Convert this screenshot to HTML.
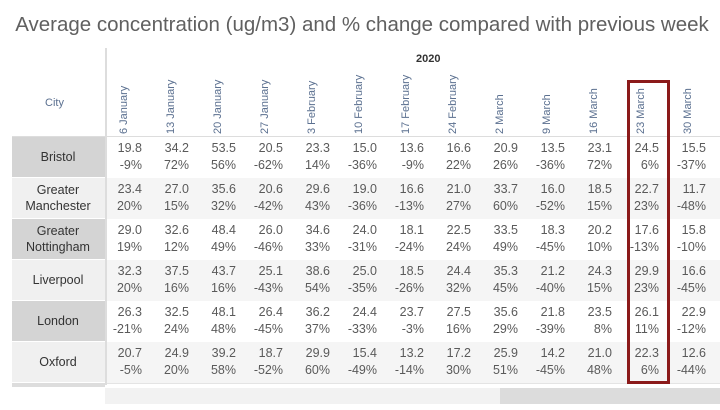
<!DOCTYPE html>
<html><head><meta charset="utf-8"><style>
body{margin:0;width:720px;height:410px;background:#fff;overflow:hidden;font-family:"Liberation Sans",sans-serif;position:relative}
.a{position:absolute}
#title{left:0;top:13px;width:724px;text-align:center;font-size:20.5px;color:#606060;white-space:nowrap}
.num{font-size:12.5px;color:#5a5a5a;text-align:right;width:40px;line-height:17px}
.city{font-size:12.5px;color:#333;text-align:center;width:92px;line-height:16px}
.dl{font-size:11px;color:#5b7090;white-space:nowrap;transform-origin:0 0;transform:rotate(-90deg)}
</style></head><body>
<div id="title" class="a">Average concentration (ug/m3) and % change compared with previous week</div>
<div class="a" style="left:416px;top:53px;font-size:11px;font-weight:bold;color:#333">2020</div>
<div class="a" style="left:45px;top:97px;font-size:11px;color:#5b7090">City</div>
<div class="a" style="left:105px;top:48px;width:2px;height:337px;background:#ddd"></div>
<div class="a" style="left:12px;top:136px;width:708px;height:1px;background:#ddd"></div>
<div id="tbl"></div>
<div class="a" style="left:12px;top:383px;width:93px;height:4px;background:#ddd"></div>
<div class="a" style="left:107px;top:383px;width:613px;height:1px;background:#e4e4e4"></div>
<div class="a" style="left:105px;top:388px;width:395px;height:16px;background:#f2f2f2"></div>
<div class="a" style="left:500px;top:388px;width:220px;height:16px;background:#dcdcdc"></div>
<div class="a" style="left:627px;top:80px;width:37px;height:298px;border:3px solid #8b1a1a"></div>
<script>
const weeks=["6 January","13 January","20 January","27 January","3 February","10 February","17 February","24 February","2 March","9 March","16 March","23 March","30 March"];
const cities=["Bristol","Greater Manchester","Greater Nottingham","Liverpool","London","Oxford"];
const conc=[
[19.8,34.2,53.5,20.5,23.3,15.0,13.6,16.6,20.9,13.5,23.1,24.5,15.5],
[23.4,27.0,35.6,20.6,29.6,19.0,16.6,21.0,33.7,16.0,18.5,22.7,11.7],
[29.0,32.6,48.4,26.0,34.6,24.0,18.1,22.5,33.5,18.3,20.2,17.6,15.8],
[32.3,37.5,43.7,25.1,38.6,25.0,18.5,24.4,35.3,21.2,24.3,29.9,16.6],
[26.3,32.5,48.1,26.4,36.2,24.4,23.7,27.5,35.6,21.8,23.5,26.1,22.9],
[20.7,24.9,39.2,18.7,29.9,15.4,13.2,17.2,25.9,14.2,21.0,22.3,12.6]];
const pct=[
[-9,72,56,-62,14,-36,-9,22,26,-36,72,6,-37],
[20,15,32,-42,43,-36,-13,27,60,-52,15,23,-48],
[19,12,49,-46,33,-31,-24,24,49,-45,10,-13,-10],
[20,16,16,-43,54,-35,-26,32,45,-40,15,23,-45],
[-21,24,48,-45,37,-33,-3,16,29,-39,8,11,-12],
[-5,20,58,-52,60,-49,-14,30,51,-45,48,6,-44]];
const T=document.getElementById('tbl');
const colX=i=>142+47*i, rowY=r=>137+41*r;
function mk(cls,css,txt){const d=document.createElement('div');d.className='a '+cls;d.style.cssText=css;if(txt!=null)d.textContent=txt;T.appendChild(d);return d;}
weeks.forEach((w,i)=>{
  const d=mk('dl','left:'+(colX(i)-24)+'px;top:134px;',w);
  
  
});
cities.forEach((c,r)=>{
  const y=rowY(r);
  const bg=mk('','left:12px;top:'+y+'px;width:93px;height:40px;background:'+(r%2?'#f0f0f0':'#d4d4d4'));
  
  
  const db=mk('','left:107px;top:'+y+'px;width:613px;height:41px;background:'+(r%2?'#f5f5f5':'#ffffff'));
  
  
  const two=c.indexOf(' ')>0;
  const ct=mk('city','left:12px;top:'+(y+(two?4:12))+'px;',null);
  ct.innerHTML=two?c.replace(' ','<br>'):c;
  
  
  weeks.forEach((w,i)=>{
    const n=mk('num','left:'+(colX(i)-40)+'px;top:'+(y+3)+'px;',conc[r][i].toFixed(1));
    
    
    const p=mk('num','left:'+(colX(i)-40)+'px;top:'+(y+20)+'px;',pct[r][i]+'%');
    
    
  });
});
</script>
</body></html>
